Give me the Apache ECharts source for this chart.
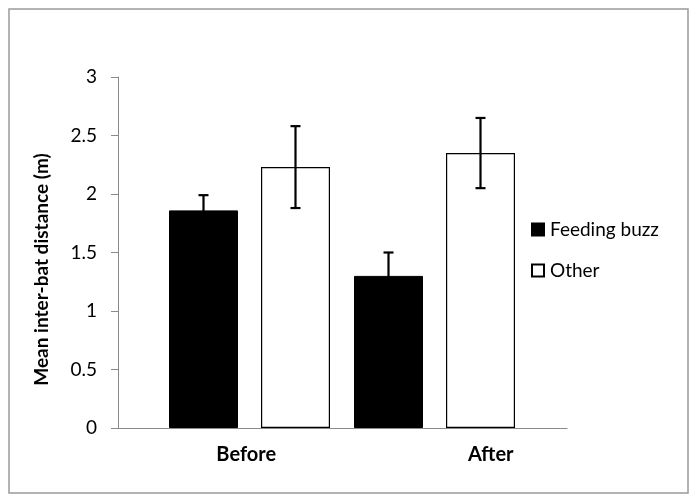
<!DOCTYPE html>
<html><head><meta charset="utf-8">
<script src="https://cdn.jsdelivr.net/npm/echarts@6/dist/echarts.min.js"></script>
<style>html,body{margin:0;padding:0;background:#fff}#c{width:698px;height:503px}</style>
</head><body><div id="c"></div>
<script>
// ---- data ----
const categories = ['Before', 'After'];
const seriesNames = ['Feeding buzz', 'Other'];
const feedingBuzz = [1.86, 1.30];
const feedingBuzzErr = [0.13, 0.20];
const other = [2.23, 2.35];
const otherErr = [0.35, 0.30];
const yAxisTitle = 'Mean inter-bat distance (m)';
const yMin = 0, yMax = 3, yStep = 0.5;

// ---- style / layout constants ----
const FONT = 'Lato, "Open Sans", sans-serif';
const BAR_W = 69;
const BAR_GAP_PX = 23;
const CAP_W = 10;

function errData(vals, errs) {
  return vals.map((v, i) => [i, v, errs[i]]);
}
function errSeries(name, vals, errs, idx, n) {
  const offset = (idx - (n - 1) / 2) * (BAR_W + BAR_GAP_PX);
  return {
    type: 'custom', name: name + ' error', xAxisIndex: 1, yAxisIndex: 1, z: 5,
    silent: true,
    data: errData(vals, errs),
    renderItem: function (params, api) {
      const c = api.value(0), m = api.value(1), e = api.value(2);
      const top = api.coord([c, m + e]);
      const bot = api.coord([c, m - e]);
      const x = top[0] + offset;
      const st = { stroke: '#000', lineWidth: 2.2 };
      return { type: 'group', children: [
        { type: 'line', shape: { x1: x, y1: top[1], x2: x, y2: bot[1] }, style: st },
        { type: 'line', shape: { x1: x - CAP_W / 2, y1: top[1], x2: x + CAP_W / 2, y2: top[1] }, style: st },
        { type: 'line', shape: { x1: x - CAP_W / 2, y1: bot[1], x2: x + CAP_W / 2, y2: bot[1] }, style: st }
      ]};
    }
  };
}

const labelShift = { Before: 32, After: 72 };

const chart = echarts.init(document.getElementById('c'), null, { renderer: 'canvas' });
chart.setOption({
  animation: false,
  backgroundColor: '#fff',
  textStyle: { fontFamily: FONT },
  graphic: [{
    type: 'rect', shape: { x: 9, y: 9, width: 679, height: 484 },
    style: { fill: 'none', stroke: '#9a9a9a', lineWidth: 1.5 }, z: -1, silent: true
  }],
  legend: {
    orient: 'vertical', left: 526, top: 215,
    itemWidth: 12, itemHeight: 12, itemGap: 22,
    icon: 'rect',
    textStyle: { fontFamily: FONT, fontSize: 19, color: '#000', padding: [0, 0, 0, 1] },
    data: seriesNames
  },
  grid: [
    { left: 118, top: 77, width: 449, height: 351, containLabel: false },
    { left: 157, top: 77, width: 370, height: 351, containLabel: false }
  ],
  xAxis: [
    {
      type: 'category', gridIndex: 0, data: categories,
      axisLine: { show: true, lineStyle: { color: '#8a8a8a', width: 1 } },
      axisTick: { show: false },
      axisLabel: {
        margin: 17, fontFamily: FONT,
        formatter: function (v) { return '{' + v + '|' + v + '}'; },
        rich: {
          Before: { fontSize: 20, fontWeight: 'bold', color: '#000', fontFamily: FONT, padding: [0, 0, 0, labelShift.Before] },
          After: { fontSize: 20, fontWeight: 'bold', color: '#000', fontFamily: FONT, padding: [0, 0, 0, labelShift.After] }
        }
      },
      splitLine: { show: false }
    },
    {
      type: 'category', gridIndex: 1, data: categories, show: false
    }
  ],
  yAxis: [
    {
      type: 'value', gridIndex: 0, min: yMin, max: yMax, interval: yStep,
      name: yAxisTitle, nameLocation: 'middle', nameGap: 67,
      nameTextStyle: { fontFamily: FONT, fontSize: 19, fontWeight: 'bold', color: '#000', padding: [0, 34, 0, 0] },
      axisLine: { show: true, lineStyle: { color: '#8a8a8a', width: 1 } },
      axisTick: { show: true, length: 7, inside: false, lineStyle: { color: '#8a8a8a' } },
      axisLabel: { margin: 21, fontSize: 19, color: '#000', fontFamily: FONT },
      splitLine: { show: false }
    },
    {
      type: 'value', gridIndex: 1, min: yMin, max: yMax, interval: yStep, show: false,
      splitLine: { show: false }
    }
  ],
  series: [
    {
      type: 'bar', name: seriesNames[0], xAxisIndex: 1, yAxisIndex: 1,
      data: feedingBuzz, barWidth: BAR_W, barGap: (BAR_GAP_PX / BAR_W * 100) + '%',
      itemStyle: { color: '#000', borderColor: '#000', borderWidth: 1 }
    },
    {
      type: 'bar', name: seriesNames[1], xAxisIndex: 1, yAxisIndex: 1,
      data: other, barWidth: BAR_W, barGap: (BAR_GAP_PX / BAR_W * 100) + '%',
      itemStyle: { color: '#fff', borderColor: '#000', borderWidth: 1.2 }
    },
    errSeries(seriesNames[0], feedingBuzz, feedingBuzzErr, 0, 2),
    errSeries(seriesNames[1], other, otherErr, 1, 2)
  ]
});
</script></body></html>
